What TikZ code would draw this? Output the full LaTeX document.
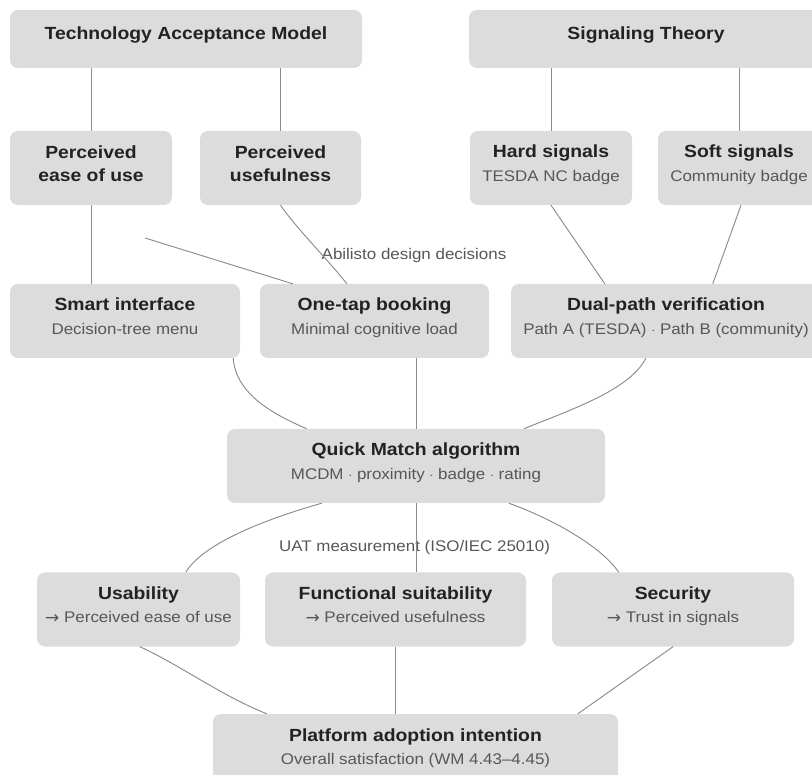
\documentclass[tikz,border=0pt]{standalone}
\usepackage{fontspec}
\setmainfont{Liberation Sans}[FakeStretch=1.1]
\newfontfamily\arrowfont{DejaVu Sans}
\newcommand\rarr{\raisebox{-0.3pt}{\arrowfont\fontsize{17}{19}\selectfont\char"2192}}
\usetikzlibrary{calc}
\definecolor{boxgray}{HTML}{DCDCDC}
\definecolor{ttlc}{HTML}{222222}
\definecolor{subc}{HTML}{575757}
\definecolor{linec}{HTML}{8C8C8C}
\tikzset{
  gbox/.style={rectangle, rounded corners=8pt, fill=boxgray, draw=none, inner sep=0pt, minimum height=74pt},
  ttl/.style={anchor=base, inner sep=0pt, text=ttlc, font=\fontsize{17.6}{21}\selectfont\bfseries},
  sub/.style={anchor=base, inner sep=0pt, text=subc, font=\fontsize{15.4}{19}\selectfont},
  lbl/.style={anchor=base, inner sep=0pt, text=subc, font=\fontsize{15.4}{19}\selectfont},
  conn/.style={draw=linec, line width=0.95pt}
}
\newcommand\gboxA[6]{%
  \node[gbox, minimum width=#4] (#1) at (#2,#3) {};
  \node[ttl] (#1-t) at ($(#1.center)+(0,-10)$) {#5};
  \node[sub] (#1-s) at ($(#1.center)+(0,13.5)$) {#6};
}
\newcommand\gboxB[6]{%
  \node[gbox, minimum width=#4] (#1) at (#2,#3) {};
  \node[ttl] (#1-t) at ($(#1.center)+(0,-9)$) {#5};
  \node[ttl] (#1-s) at ($(#1.center)+(0,14)$) {#6};
}
\begin{document}
\begin{tikzpicture}[x=1pt,y=-1pt]
\useasboundingbox (0,0) rectangle (812,775);
% top theory boxes
\node[gbox, minimum width=352pt, minimum height=58pt] (tam) at (186,39) {};
\node[ttl] (tam-t) at ($(tam.center)+(0,0.5)$) {Technology Acceptance Model};
\node[gbox, minimum width=354pt, minimum height=58pt] (st) at (646,39) {};
\node[ttl] (st-t) at ($(st.center)+(0,0.5)$) {Signaling Theory};
% second row
\gboxB{pe}{91}{168}{162pt}{Perceived}{ease of use}
\gboxB{pu}{280.5}{168}{161pt}{Perceived}{usefulness}
\gboxA{hs}{551}{168}{162pt}{Hard signals}{TESDA NC badge}
\gboxA{ss}{739}{168}{162pt}{Soft signals}{Community badge}
% design row
\gboxA{si}{125}{321}{230pt}{Smart interface}{Decision-tree menu}
\gboxA{ot}{374.5}{321}{229pt}{One-tap booking}{Minimal cognitive load}
\gboxA{dp}{666}{321}{310pt}{Dual-path verification}{Path A (TESDA) $\cdot$ Path B (community)}
% quick match
\gboxA{qm}{416}{466}{378pt}{Quick Match algorithm}{MCDM $\cdot$ proximity $\cdot$ badge $\cdot$ rating}
% UAT row
\gboxA{us}{138.5}{609.5}{203pt}{Usability}{\rarr\ Perceived ease of use}
\gboxA{fs}{395.5}{609.5}{261pt}{Functional suitability}{\rarr\ Perceived usefulness}
\gboxA{se}{673}{609.5}{242pt}{Security}{\rarr\ Trust in signals}
% adoption
\gboxA{pa}{415.5}{751}{405pt}{Platform adoption intention}{Overall satisfaction (WM 4.43\char"2013 4.45)}
% labels
\node[lbl] (l1) at (414,260) {Abilisto design decisions};
\node[lbl] (l2) at (414.5,551) {UAT measurement (ISO/IEC 25010)};
% connectors
\draw[conn] (pe.north |- tam.south) -- (pe.north);
\draw[conn] (pu.north |- tam.south) -- (pu.north);
\draw[conn] (hs.north |- st.south) -- (hs.north);
\draw[conn] (ss.north |- st.south) -- (ss.north);
\draw[conn] (pe.south) -- (pe.south |- si.north);
\draw[conn] (pu.south) .. controls (296,228) and (330,262) .. ($(ot.north west)+(87,0)$);
\coordinate (free) at (145,238);
\draw[conn] (free) -- ($(ot.north west)+(33,0)$);
\draw[conn] (hs.south) -- ($(dp.north west)+(94,0)$);
\draw[conn] ($(ss.south)+(2,0)$) -- ($(dp.north west)+(202,0)$);
\draw[conn] ($(si.south east)+(-7,0)$) .. controls (236,395) and (275,415) .. ($(qm.north west)+(80,0)$);
\draw[conn] (qm.north |- ot.south) -- (qm.north);
\draw[conn] ($(dp.south west)+(135,0)$) .. controls (630,390) and (570,410) .. ($(qm.north west)+(297,0)$);
\draw[conn] ($(qm.south west)+(95,0)$) .. controls (280,515) and (205,540) .. ($(us.north west)+(149,0)$);
\draw[conn] (qm.south) -- (qm.south |- fs.north);
\draw[conn] ($(qm.south west)+(282,0)$) .. controls (550,518) and (600,545) .. ($(se.north west)+(67,0)$);
\draw[conn] ($(us.south west)+(103,0)$) .. controls (180,665) and (220,695) .. ($(pa.north west)+(54,0)$);
\draw[conn] (fs.south) -- (fs.south |- pa.north);
\draw[conn] (se.south) -- ($(pa.north west)+(365,0)$);
\end{tikzpicture}
\end{document}
